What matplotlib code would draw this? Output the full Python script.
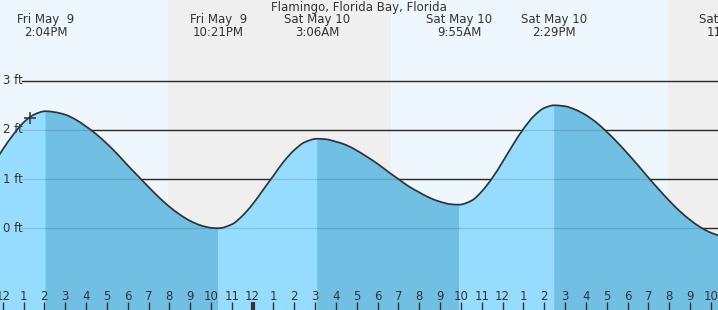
import matplotlib
matplotlib.use("Agg")
import matplotlib.pyplot as plt
import numpy as np
from matplotlib.path import Path
from matplotlib.patches import PathPatch
from matplotlib.transforms import blended_transform_factory

# ---------------- data (hours after Fri May 9, 12:00 noon; heights in ft) ----------------
title = "Flamingo, Florida Bay, Florida"

tide_hours = [-0.5, 0.0, 0.5, 1.0, 1.5, 2.067, 2.5, 3.0, 3.5, 4.0, 4.5, 5.0, 5.5, 6.0, 6.5,
              7.0, 7.5, 8.0, 8.5, 9.0, 9.5, 10.0, 10.35, 11.0, 11.5, 12.0, 12.5, 13.0,
              13.5, 14.0, 14.5, 15.1, 15.5, 16.0, 16.5, 17.0, 17.5, 18.0, 18.5, 19.0,
              19.5, 20.0, 20.5, 21.0, 21.5, 21.917, 22.5, 23.0, 23.5, 24.0, 24.5, 25.0,
              25.5, 26.0, 26.483, 27.0, 27.5, 28.0, 28.5, 29.0, 29.5, 30.0, 30.5, 31.0, 31.5,
              32.0, 32.5, 33.0, 33.5, 34.0, 34.5, 35.0]
tide_ft = [1.27, 1.60, 1.90, 2.15, 2.31, 2.38, 2.36, 2.31, 2.21, 2.07, 1.91, 1.72, 1.51, 1.28,
           1.06, 0.84, 0.63, 0.44, 0.28, 0.15, 0.06, 0.01, 0.00, 0.08, 0.25, 0.49, 0.78,
           1.07, 1.36, 1.59, 1.75, 1.82, 1.81, 1.76, 1.69, 1.58, 1.45, 1.31, 1.15, 1.00,
           0.85, 0.73, 0.62, 0.54, 0.49, 0.48, 0.56, 0.75, 1.02, 1.35, 1.70, 2.02, 2.28,
           2.445, 2.50, 2.48, 2.41, 2.30, 2.15, 1.96, 1.75, 1.52, 1.28, 1.03, 0.79, 0.56, 0.35,
           0.17, 0.02, -0.09, -0.157, -0.18]

event_hours = [2.067, 10.35, 15.1, 21.917, 26.483, 35.0]
event_days = ["Fri May  9", "Fri May  9", "Sat May 10", "Sat May 10", "Sat May 10", "Sat May 10"]
event_times = ["2:04PM", "10:21PM", "3:06AM", "9:55AM", "2:29PM", "11:00PM"]

sunset_hours = [7.95, 31.94]
sunrise_hours = [18.64]

now_hour = 1.31
now_ft = 2.24

ft_levels = [0, 1, 2, 3]
ft_labels = ["0 ft", "1 ft", "2 ft", "3 ft"]

hour_ticks = list(range(0, 35))
hour_labels = [str((12 + h) % 12 if (12 + h) % 12 != 0 else 12) for h in hour_ticks]
midnight_hours = [12]

# ---------------- style ----------------
DAY = "#eef7fe"
NIGHT = "#efefef"
RISE = "#96dcff"
FALL = "#71c0e4"
INK = "#333333"
FS = 8.5
W, H = 718, 310

fig = plt.figure(figsize=(W / 100, H / 100), dpi=100)
ax = fig.add_axes([0, 0, 1, 1])
x0, x1 = -0.1296, 34.34
y0, y1 = -1.661, 4.640
ax.set_xlim(x0, x1)
ax.set_ylim(y0, y1)
ax.axis("off")

# day / night background
edges = [x0] + sorted(sunset_hours + sunrise_hours) + [x1]
for i in range(len(edges) - 1):
    ax.axvspan(edges[i], edges[i + 1], color=DAY if i % 2 == 0 else NIGHT, lw=0, zorder=0)

# grid lines (dark on background)
for lv in ft_levels:
    ax.axhline(lv, xmin=22 / W, xmax=1, color=INK, lw=1.0, zorder=1)

# ---- smooth (monotone cubic) spline through the tide points, drawn as Bezier path ----
t = np.array(tide_hours, dtype=float)
h = np.array(tide_ft, dtype=float)
d = np.diff(h) / np.diff(t)
m = np.zeros_like(h)
m[0], m[-1] = d[0], d[-1]
for k in range(1, len(h) - 1):
    if d[k - 1] * d[k] > 0:
        w1 = 2 * (t[k + 1] - t[k]) + (t[k] - t[k - 1])
        w2 = (t[k + 1] - t[k]) + 2 * (t[k] - t[k - 1])
        m[k] = (w1 + w2) / (w1 / d[k - 1] + w2 / d[k])


def bezier_verts(i, j):
    verts = [(t[i], h[i])]
    codes = [Path.LINETO]
    for k in range(i, j):
        dx = t[k + 1] - t[k]
        verts += [(t[k] + dx / 3, h[k] + m[k] * dx / 3),
                  (t[k + 1] - dx / 3, h[k + 1] - m[k + 1] * dx / 3),
                  (t[k + 1], h[k + 1])]
        codes += [Path.CURVE4] * 3
    return verts, codes


# water fill, colored by rising / falling
idx_bounds = [0] + [int(np.argmin(np.abs(t - e))) for e in event_hours if t[0] < e < t[-1]] + [len(t) - 1]
for i, j in zip(idx_bounds[:-1], idx_bounds[1:]):
    v, c = bezier_verts(i, j)
    verts = [(t[i], y0)] + v + [(t[j], y0), (t[i], y0)]
    codes = [Path.MOVETO] + c + [Path.LINETO, Path.CLOSEPOLY]
    col = RISE if h[j] > h[i] else FALL
    ax.add_patch(PathPatch(Path(verts, codes), facecolor=col, edgecolor=col, lw=0.3, zorder=2))

# faint grid over water
for lv in ft_levels:
    ax.axhline(lv, xmin=22 / W, xmax=1, color="black", alpha=0.12, lw=1.0, zorder=3)

# tide curve
v, c = bezier_verts(0, len(t) - 1)
c[0] = Path.MOVETO
ax.add_patch(PathPatch(Path(v, c), facecolor="none", edgecolor=INK, lw=1.25, zorder=4))
ax.plot([now_hour], [now_ft], marker="+", ms=9, mew=1.1, color=INK, zorder=5)

# y labels
ty = blended_transform_factory(ax.transAxes, ax.transData)
for lv, lab in zip(ft_levels, ft_labels):
    ax.text(3 / W, lv, lab, transform=ty, ha="left", va="center", fontsize=FS, color=INK, zorder=6)

# title & event labels
tx = blended_transform_factory(ax.transData, ax.transAxes)
ax.text(0.5, 1 - 7.5 / H, title, transform=ax.transAxes, ha="center", va="center",
        fontsize=FS, color=INK, zorder=6)
for eh, dd, tm in zip(event_hours, event_days, event_times):
    ax.text(eh, 1 - 20 / H, dd, transform=tx, ha="center", va="center", fontsize=FS, color=INK,
            zorder=6, clip_on=False)
    ax.text(eh, 1 - 32 / H, tm, transform=tx, ha="center", va="center", fontsize=FS, color=INK,
            zorder=6, clip_on=False)

# bottom hour ticks
for hr, lab in zip(hour_ticks, hour_labels):
    ax.text(hr, 14 / H, lab, transform=tx, ha="center", va="center", fontsize=FS,
            color=INK, zorder=6)
    lw = 3 if hr in midnight_hours else 1
    ax.plot([hr, hr], [0, 8 / H], transform=tx, color=INK, lw=lw, zorder=6,
            solid_capstyle="butt")

fig.savefig("out.png", dpi=100)
